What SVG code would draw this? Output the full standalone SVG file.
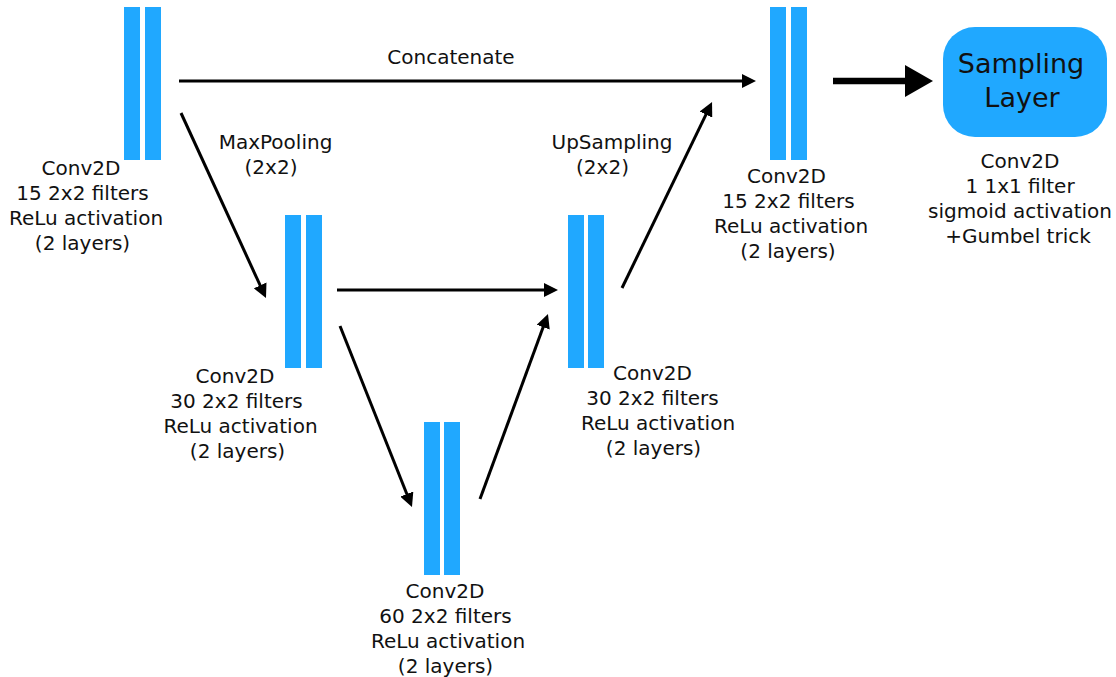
<svg xmlns="http://www.w3.org/2000/svg" width="1116" height="677" viewBox="0 0 1116 677">
<style>
  .bar{fill:#20a8ff}
  text{font-family:"DejaVu Sans",Verdana,sans-serif;font-size:20px;fill:#111;text-anchor:middle}
  .big{font-size:27px}
  .ln{stroke:#000;stroke-width:3;fill:none;marker-end:url(#ah)}
</style>
<defs>
  <marker id="ah" markerUnits="userSpaceOnUse" markerWidth="14" markerHeight="14" viewBox="0 0 14 14" refX="10" refY="7" orient="auto">
    <path d="M0,0 L14,7 L0,14 z" fill="#000"/>
  </marker>
</defs>
<rect width="1116" height="677" fill="#fff"/>
<g id="connectors">
  <line class="ln" x1="179" y1="81" x2="752" y2="81"/>
  <line class="ln" x1="181" y1="113" x2="264.3" y2="294.4"/>
  <line class="ln" x1="337" y1="290" x2="554" y2="290"/>
  <line class="ln" x1="340" y1="326" x2="410.5" y2="503.3"/>
  <line class="ln" x1="480" y1="499" x2="546.6" y2="317.8"/>
  <line class="ln" x1="622" y1="288" x2="710.3" y2="105.6"/>
  <line x1="833" y1="81" x2="907" y2="81" stroke="#000" stroke-width="6.5"/>
  <polygon points="905,65 933,81 905,97" fill="#000"/>
  <text x="451" y="64">Concatenate</text>
  <text x="275.5" y="149">MaxPooling</text>
  <text x="271" y="174">(2x2)</text>
  <text x="612" y="149">UpSampling</text>
  <text x="602.5" y="174">(2x2)</text>
</g>
<g id="conv1">
  <rect class="bar" x="124" y="7" width="16" height="153"/>
  <rect class="bar" x="145" y="7" width="16" height="153"/>
  <text x="81" y="175">Conv2D</text>
  <text x="82.5" y="200">15 2x2 filters</text>
  <text x="86" y="225">ReLu activation</text>
  <text x="82.5" y="250">(2 layers)</text>
</g>
<g id="conv2">
  <rect class="bar" x="285" y="215" width="16" height="153"/>
  <rect class="bar" x="306" y="215" width="16" height="153"/>
  <text x="235" y="383">Conv2D</text>
  <text x="236.5" y="408">30 2x2 filters</text>
  <text x="240.5" y="433">ReLu activation</text>
  <text x="237.5" y="458">(2 layers)</text>
</g>
<g id="conv3">
  <rect class="bar" x="424" y="422" width="16" height="153"/>
  <rect class="bar" x="444" y="422" width="16" height="153"/>
  <text x="445" y="598">Conv2D</text>
  <text x="445.5" y="623">60 2x2 filters</text>
  <text x="448" y="648">ReLu activation</text>
  <text x="445.5" y="673">(2 layers)</text>
</g>
<g id="conv4">
  <rect class="bar" x="568" y="215" width="16" height="153"/>
  <rect class="bar" x="588" y="215" width="16" height="153"/>
  <text x="652.5" y="380">Conv2D</text>
  <text x="652.5" y="405">30 2x2 filters</text>
  <text x="658" y="430">ReLu activation</text>
  <text x="653.5" y="455">(2 layers)</text>
</g>
<g id="conv5">
  <rect class="bar" x="770" y="7" width="16" height="153"/>
  <rect class="bar" x="791" y="7" width="16" height="153"/>
  <text x="786.5" y="183">Conv2D</text>
  <text x="788.5" y="208">15 2x2 filters</text>
  <text x="791" y="233">ReLu activation</text>
  <text x="788" y="258">(2 layers)</text>
</g>
<g id="sampling">
  <rect class="bar" x="943" y="27" width="164" height="110" rx="32" ry="32"/>
  <text class="big" x="1021" y="73">Sampling</text>
  <text class="big" x="1022" y="107">Layer</text>
  <text x="1020" y="168">Conv2D</text>
  <text x="1020" y="193">1 1x1 filter</text>
  <text x="1020" y="218">sigmoid activation</text>
  <text x="1018" y="243">+Gumbel trick</text>
</g>
</svg>
